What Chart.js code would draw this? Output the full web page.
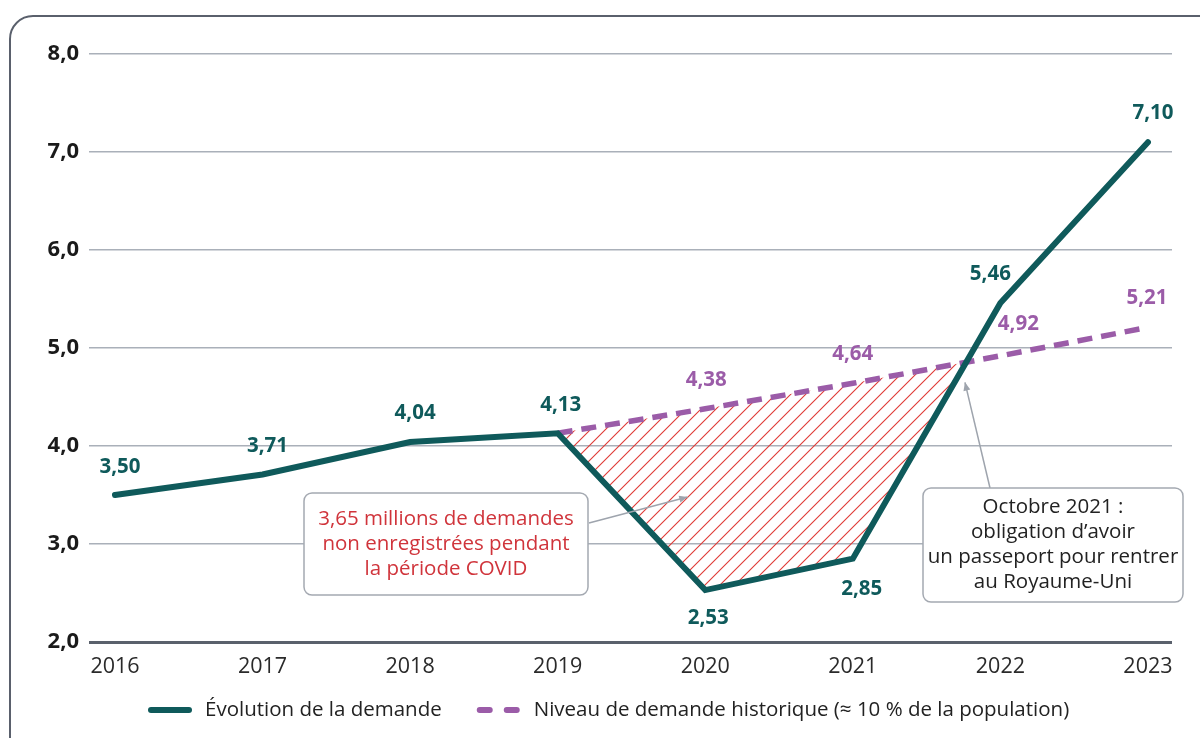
<!DOCTYPE html>
<html lang="fr">
<head>
<meta charset="UTF-8">
<title>Évolution de la demande de passeports</title>
<script src="https://cdn.jsdelivr.net/npm/chart.js"></script>
<style>
  html, body { margin: 0; padding: 0; background: #fff; overflow: hidden; }
  .frame {
    position: absolute; left: 9px; top: 15px; width: 1220px; height: 760px;
    border: 2px solid #5a606c; border-radius: 24px; box-sizing: border-box;
  }
  .wrap { position: absolute; left: 0; top: 0; width: 1200px; height: 738px; }
</style>
</head>
<body>
<div class="frame"></div>
<div class="wrap"><canvas id="chart" width="1200" height="738"></canvas></div>
<script>
// data
const years = [2016, 2017, 2018, 2019, 2020, 2021, 2022, 2023];
const demande = [3.50, 3.71, 4.04, 4.13, 2.53, 2.85, 5.46, 7.10];
const histYears = [2019, 2020, 2021, 2022, 2023];
const historique = [4.13, 4.38, 4.64, 4.92, 5.21];
const yTicks = [2, 3, 4, 5, 6, 7, 8];

const TEAL = '#0f5a5b';
const PURPLE = '#9b5ca8';
const FONT = '"Open Sans", sans-serif';

const fmt = (v, d) => v.toFixed(d).replace('.', ',');

// label placement (dx, dy in px from the point)
const demandeLabelPos = [[5,-28],[5,-28],[5,-29],[3,-28],[3,28],[9,30],[-10,-29],[5,-29]];
const histLabelPos = [null,[1,-29],[0,-29],[18,-32],[-1,-29]];

// red hatch pattern
function hatch() {
  const s = 15;
  const c = document.createElement('canvas');
  c.width = s; c.height = s;
  const g = c.getContext('2d');
  g.strokeStyle = '#e03a36';
  g.lineWidth = 1.1;
  g.beginPath();
  g.moveTo(-2, s + 2); g.lineTo(s + 2, -2);
  g.moveTo(-2, 2); g.lineTo(2, -2);
  g.moveTo(s - 2, s + 2); g.lineTo(s + 2, s - 2);
  g.stroke();
  return g.createPattern(c, 'repeat');
}

const notes = [
  { box: [304, 493, 588, 595], color: '#d0343b',
    lines: ['3,65 millions de demandes', 'non enregistrées pendant', 'la période COVID'],
    from: [589, 523], tip: [2019.88, 3.48] },
  { box: [923, 488, 1183, 602], color: '#222',
    lines: ['Octobre 2021 :', 'obligation d\u2019avoir', 'un passeport pour rentrer', 'au Royaume-Uni'],
    from: [990, 488], tip: [2021.76, 4.65] }
];

const extras = {
  id: 'extras',
  afterDatasetsDraw(chart) {
    const ctx = chart.ctx;
    const xs = chart.scales.x, ys = chart.scales.y;
    ctx.save();
    // value labels
    ctx.font = 'bold 20.5px ' + FONT;
    ctx.textAlign = 'center';
    ctx.textBaseline = 'middle';
    chart.getDatasetMeta(0).data.forEach((p, i) => {
      const o = demandeLabelPos[i];
      ctx.fillStyle = TEAL;
      ctx.fillText(fmt(demande[i], 2), p.x + o[0], p.y + o[1]);
    });
    chart.getDatasetMeta(1).data.forEach((p, i) => {
      const o = histLabelPos[i];
      if (!o) return;
      ctx.fillStyle = PURPLE;
      ctx.fillText(fmt(historique[i], 2), p.x + o[0], p.y + o[1]);
    });

    // annotation boxes + arrows
    notes.forEach(n => {
      const tx = xs.getPixelForValue(n.tip[0]), ty = ys.getPixelForValue(n.tip[1]);
      ctx.strokeStyle = '#9ea4ad';
      ctx.fillStyle = '#9ea4ad';
      ctx.lineWidth = 1.5;
      ctx.beginPath();
      ctx.moveTo(n.from[0], n.from[1]);
      ctx.lineTo(tx, ty);
      ctx.stroke();
      const a = Math.atan2(ty - n.from[1], tx - n.from[0]);
      ctx.beginPath();
      ctx.moveTo(tx, ty);
      ctx.lineTo(tx - 9 * Math.cos(a - 0.4), ty - 9 * Math.sin(a - 0.4));
      ctx.lineTo(tx - 9 * Math.cos(a + 0.4), ty - 9 * Math.sin(a + 0.4));
      ctx.closePath();
      ctx.fill();

      const [x1, y1, x2, y2] = n.box;
      ctx.beginPath();
      ctx.roundRect(x1, y1, x2 - x1, y2 - y1, 8);
      ctx.fillStyle = '#fff';
      ctx.fill();
      ctx.lineWidth = 1.5;
      ctx.strokeStyle = '#a4a9b1';
      ctx.stroke();

      ctx.font = '20.5px ' + FONT;
      ctx.fillStyle = n.color;
      const cx = (x1 + x2) / 2;
      const lh = 25;
      const top = (y1 + y2) / 2 - (n.lines.length - 1) * lh / 2;
      n.lines.forEach((t, k) => ctx.fillText(t, cx, top + k * lh));
    });

    // legend
    const ly = 710;
    ctx.font = '20.5px ' + FONT;
    ctx.textAlign = 'left';
    ctx.fillStyle = '#222';
    ctx.lineCap = 'round';
    ctx.lineWidth = 6;
    let x = 151;
    ctx.strokeStyle = TEAL;
    ctx.beginPath(); ctx.moveTo(x, ly); ctx.lineTo(x + 38, ly); ctx.stroke();
    x += 54;
    const l0 = chart.data.datasets[0].label;
    ctx.fillText(l0, x, ly);
    x += ctx.measureText(l0).width + 38;
    ctx.strokeStyle = PURPLE;
    ctx.beginPath();
    ctx.moveTo(x, ly); ctx.lineTo(x + 10, ly);
    ctx.moveTo(x + 27, ly); ctx.lineTo(x + 37, ly);
    ctx.stroke();
    x += 54;
    ctx.fillText(chart.data.datasets[1].label, x, ly);
    ctx.restore();
  }
};

new Chart(document.getElementById('chart'), {
  type: 'line',
  data: {
    datasets: [
      {
        label: 'Évolution de la demande',
        data: years.map((y, i) => ({ x: y, y: demande[i] })),
        borderColor: TEAL,
        borderWidth: 6,
        borderCapStyle: 'round',
        pointRadius: 0,
        tension: 0,
        fill: false,
        order: 1
      },
      {
        label: 'Niveau de demande historique (\u2248 10 % de la population)',
        data: histYears.map((y, i) => ({ x: y, y: historique[i] })),
        borderColor: PURPLE,
        borderWidth: 5.5,
        borderDash: [15, 9],
        pointRadius: 0,
        tension: 0,
        fill: { target: 0, above: hatch(), below: 'rgba(0,0,0,0)' },
        order: 2
      }
    ]
  },
  options: {
    responsive: false,
    animation: false,
    layout: { padding: { top: 54, right: 28, bottom: 46, left: 0 } },
    plugins: { legend: { display: false }, tooltip: { enabled: false } },
    scales: {
      x: {
        type: 'linear',
        min: 2015.824,
        max: 2023.163,
        afterBuildTicks: s => { s.ticks = years.map(v => ({ value: v })); },
        afterFit: s => { s.height = 50; },
        grid: { display: false, drawTicks: false },
        border: { display: false },
        ticks: {
          padding: 12,
          color: '#2a2a2a',
          font: { family: FONT, size: 21.5 },
          callback: v => String(v),
          maxRotation: 0
        }
      },
      y: {
        min: 2,
        max: 8,
        afterBuildTicks: s => { s.ticks = yTicks.map(v => ({ value: v })); },
        afterFit: s => { s.width = 89; },
        grid: {
          drawTicks: false,
          color: c => c.tick.value === 2 ? '#5a616c' : '#aab0b9',
          lineWidth: c => c.tick.value === 2 ? 3 : 1.5
        },
        border: { display: false },
        ticks: {
          padding: 10,
          color: '#1a1a1a',
          font: { family: FONT, size: 22, weight: 'bold' },
          callback: v => fmt(v, 1)
        }
      }
    }
  },
  plugins: [extras]
});
</script>
</body>
</html>
